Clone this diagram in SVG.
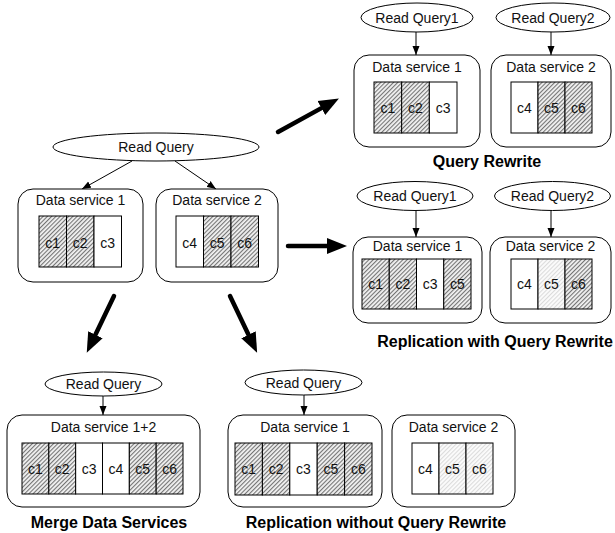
<svg xmlns="http://www.w3.org/2000/svg" width="615" height="533" viewBox="0 0 615 533">
<style>
  text { font-family: "Liberation Sans", Arial, sans-serif; font-size: 14px; fill: #111; text-anchor: middle; }
  .title { font-weight: bold; font-size: 16px; fill: #000; }
  .q { fill: #fff; stroke: #000; stroke-width: 1; }
  .box { fill: #fff; stroke: #000; stroke-width: 1; }
  .col { fill: #fff; stroke: #000; stroke-width: 1; }
  .h { fill: url(#hatch); stroke: #000; stroke-width: 1; }
  .lh { fill: url(#lhatch); stroke: #000; stroke-width: 1; }
  .thin { stroke: #000; stroke-width: 1; fill: none; marker-end: url(#ah); }
  .thick { stroke: #000; stroke-width: 4.5; fill: none; stroke-linecap: round; marker-end: url(#bh); }
</style>
<defs>
  <pattern id="hatch" patternUnits="userSpaceOnUse" width="3" height="10" patternTransform="rotate(45)">
    <rect width="3" height="10" fill="#f2f2f2"/>
    <line x1="0.6" y1="0" x2="0.6" y2="10" stroke="#444" stroke-width="0.8"/>
  </pattern>
  <pattern id="lhatch" patternUnits="userSpaceOnUse" width="3" height="10" patternTransform="rotate(45)">
    <rect width="3" height="10" fill="#fcfcfc"/>
    <line x1="0.6" y1="0" x2="0.6" y2="10" stroke="#cfcfcf" stroke-width="0.8"/>
  </pattern>
  <marker id="ah" viewBox="0 -4 9 8" refX="9" refY="0" markerWidth="9" markerHeight="8" markerUnits="userSpaceOnUse" orient="auto">
    <path d="M0,-3.5 L9,0 L0,3.5 z" fill="#000"/>
  </marker>
  <marker id="bh" viewBox="0 -9 20 18" refX="0" refY="0" markerWidth="20" markerHeight="18" markerUnits="userSpaceOnUse" orient="auto">
    <path d="M0,-8 L20,0 L0,8 z" fill="#000"/>
  </marker>
</defs>

<g id="connectors">
  <line class="thin" x1="132" y1="161" x2="82" y2="189"/>
  <line class="thin" x1="175" y1="161" x2="216" y2="189"/>
  <line class="thin" x1="416" y1="32" x2="416" y2="55"/>
  <line class="thin" x1="551" y1="32" x2="551" y2="55"/>
  <line class="thin" x1="416" y1="211" x2="416" y2="237"/>
  <line class="thin" x1="551" y1="211" x2="551" y2="237"/>
  <line class="thin" x1="103" y1="396" x2="103" y2="415"/>
  <line class="thin" x1="304" y1="395" x2="304" y2="415"/>
  <line class="thick" x1="278" y1="132" x2="321.4" y2="108.1"/>
  <line class="thick" x1="288" y1="246" x2="327" y2="246"/>
  <line class="thick" x1="114" y1="296" x2="95.4" y2="334.7"/>
  <line class="thick" x1="230" y1="296" x2="248.5" y2="334.8"/>
</g>

<!-- main -->
<g id="main-query">
  <ellipse class="q" cx="156" cy="147" rx="103" ry="14"/>
  <text x="156" y="152">Read Query</text>
</g>
<g id="main-ds1">
  <rect class="box" x="18" y="189" width="125" height="93" rx="15"/>
  <text x="80.5" y="205">Data service 1</text>
  <rect class="h" x="39" y="216" width="27.5" height="51"/>
  <rect class="h" x="66.5" y="216" width="27.5" height="51"/>
  <rect class="col" x="94" y="216" width="27.5" height="51"/>
  <text x="52.75" y="248">c1</text><text x="80.25" y="248">c2</text><text x="107.75" y="248">c3</text>
</g>
<g id="main-ds2">
  <rect class="box" x="156" y="189" width="122" height="93" rx="15"/>
  <text x="217" y="205">Data service 2</text>
  <rect class="col" x="176" y="216" width="27.5" height="51"/>
  <rect class="h" x="203.5" y="216" width="27.5" height="51"/>
  <rect class="h" x="231" y="216" width="27.5" height="51"/>
  <text x="189.75" y="248">c4</text><text x="217.25" y="248">c5</text><text x="244.75" y="248">c6</text>
</g>

<!-- Query Rewrite -->
<g id="qr-query1">
  <ellipse class="q" cx="417" cy="17.5" rx="56" ry="14.5"/>
  <text x="417" y="22.5">Read Query1</text>
</g>
<g id="qr-query2">
  <ellipse class="q" cx="553" cy="17.5" rx="57" ry="14.5"/>
  <text x="553" y="22.5">Read Query2</text>
</g>
<g id="qr-ds1">
  <rect class="box" x="354" y="55" width="126" height="92" rx="15"/>
  <text x="417" y="72">Data service 1</text>
  <rect class="h" x="374" y="82" width="27.67" height="51"/>
  <rect class="h" x="401.67" y="82" width="27.67" height="51"/>
  <rect class="col" x="429.33" y="82" width="27.67" height="51"/>
  <text x="387.8" y="113">c1</text><text x="415.5" y="113">c2</text><text x="443.2" y="113">c3</text>
</g>
<g id="qr-ds2">
  <rect class="box" x="491" y="55" width="120" height="92" rx="15"/>
  <text x="551" y="72">Data service 2</text>
  <rect class="col" x="511" y="82" width="27" height="51"/>
  <rect class="h" x="538" y="82" width="27" height="51"/>
  <rect class="h" x="565" y="82" width="27" height="51"/>
  <text x="524.5" y="113">c4</text><text x="551.5" y="113">c5</text><text x="578.5" y="113">c6</text>
</g>
<text class="title" x="487" y="167">Query Rewrite</text>

<!-- Replication with Query Rewrite -->
<g id="rwq-query1">
  <ellipse class="q" cx="415" cy="196" rx="58" ry="14.5"/>
  <text x="415" y="201">Read Query1</text>
</g>
<g id="rwq-query2">
  <ellipse class="q" cx="552.5" cy="196" rx="58" ry="14.5"/>
  <text x="552.5" y="201">Read Query2</text>
</g>
<g id="rwq-ds1">
  <rect class="box" x="353" y="237" width="129" height="86" rx="15"/>
  <text x="417.5" y="251">Data service 1</text>
  <rect class="h" x="362" y="259" width="27.25" height="50"/>
  <rect class="h" x="389.25" y="259" width="27.25" height="50"/>
  <rect class="col" x="416.5" y="259" width="27.25" height="50"/>
  <rect class="h" x="443.75" y="259" width="27.25" height="50"/>
  <text x="375.6" y="289">c1</text><text x="402.9" y="289">c2</text><text x="430.1" y="289">c3</text><text x="457.4" y="289">c5</text>
</g>
<g id="rwq-ds2">
  <rect class="box" x="490" y="237" width="121" height="86" rx="15"/>
  <text x="550.5" y="251">Data service 2</text>
  <rect class="col" x="511" y="259" width="27" height="50"/>
  <rect class="lh" x="538" y="259" width="27" height="50"/>
  <rect class="h" x="565" y="259" width="27" height="50"/>
  <text x="524.5" y="289">c4</text><text x="551.5" y="289">c5</text><text x="578.5" y="289">c6</text>
</g>
<text class="title" x="495" y="347">Replication with Query Rewrite</text>

<!-- Merge -->
<g id="merge-query">
  <ellipse class="q" cx="103.5" cy="384" rx="58.5" ry="12"/>
  <text x="103.5" y="389">Read Query</text>
</g>
<g id="merge-ds">
  <rect class="box" x="7" y="415" width="193" height="92" rx="15"/>
  <text x="103.5" y="432">Data service 1+2</text>
  <rect class="h" x="22" y="443" width="26.83" height="51"/>
  <rect class="h" x="48.83" y="443" width="26.83" height="51"/>
  <rect class="col" x="75.67" y="443" width="26.83" height="51"/>
  <rect class="col" x="102.5" y="443" width="26.83" height="51"/>
  <rect class="h" x="129.33" y="443" width="26.83" height="51"/>
  <rect class="h" x="156.17" y="443" width="26.83" height="51"/>
  <text x="35.4" y="474">c1</text><text x="62.25" y="474">c2</text><text x="89.1" y="474">c3</text><text x="115.9" y="474">c4</text><text x="142.75" y="474">c5</text><text x="169.6" y="474">c6</text>
</g>
<text class="title" x="109" y="528">Merge Data Services</text>

<!-- Replication without Query Rewrite -->
<g id="rwoq-query">
  <ellipse class="q" cx="303.5" cy="382.5" rx="58.5" ry="12.5"/>
  <text x="303.5" y="387.5">Read Query</text>
</g>
<g id="rwoq-ds1">
  <rect class="box" x="228" y="415" width="154" height="92" rx="15"/>
  <text x="305" y="432">Data service 1</text>
  <rect class="h" x="235" y="443" width="27.4" height="52"/>
  <rect class="h" x="262.4" y="443" width="27.4" height="52"/>
  <rect class="col" x="289.8" y="443" width="27.4" height="52"/>
  <rect class="h" x="317.2" y="443" width="27.4" height="52"/>
  <rect class="h" x="344.6" y="443" width="27.4" height="52"/>
  <text x="248.7" y="474">c1</text><text x="276.1" y="474">c2</text><text x="303.5" y="474">c3</text><text x="330.9" y="474">c5</text><text x="358.3" y="474">c6</text>
</g>
<g id="rwoq-ds2">
  <rect class="box" x="392" y="415" width="123" height="92" rx="15"/>
  <text x="453.5" y="432">Data service 2</text>
  <rect class="col" x="412" y="443" width="27" height="51"/>
  <rect class="lh" x="439" y="443" width="27" height="51"/>
  <rect class="lh" x="466" y="443" width="27" height="51"/>
  <text x="425.5" y="474">c4</text><text x="452.5" y="474">c5</text><text x="479.5" y="474">c6</text>
</g>
<text class="title" x="376" y="528">Replication without Query Rewrite</text>
</svg>
